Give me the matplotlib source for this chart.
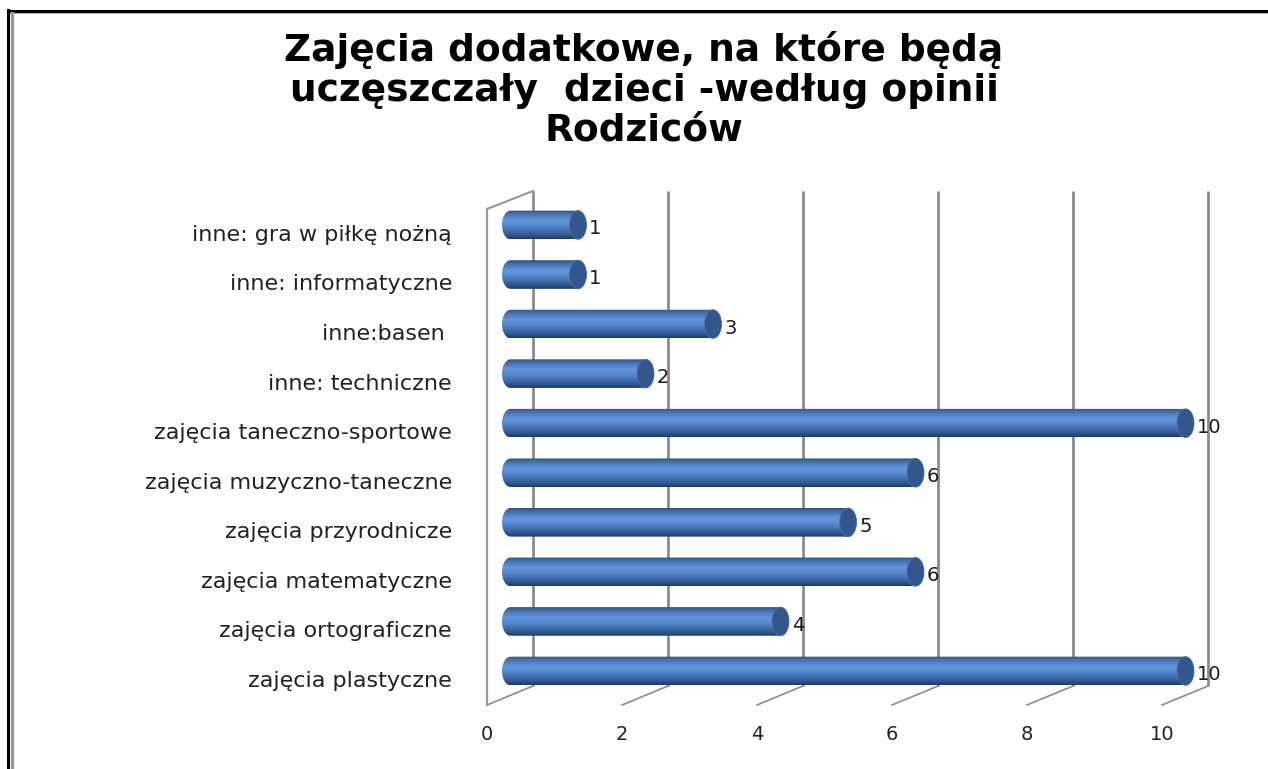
import numpy as np
import matplotlib
matplotlib.use("Agg")
import matplotlib.pyplot as plt
from matplotlib.patches import PathPatch, Ellipse
from matplotlib.path import Path
from matplotlib.colors import LinearSegmentedColormap
from matplotlib.lines import Line2D

# ---------------- data ----------------
categories = ['zajęcia plastyczne', 'zajęcia ortograficzne', 'zajęcia matematyczne',
              'zajęcia przyrodnicze', 'zajęcia muzyczno-taneczne', 'zajęcia taneczno-sportowe',
              'inne: techniczne', 'inne:basen ', 'inne: informatyczne', 'inne: gra w piłkę nożną']
values = [10, 4, 6, 5, 6, 10, 2, 3, 1, 1]
ticks = [0, 2, 4, 6, 8, 10]
title = "Zajęcia dodatkowe, na które będą\nuczęszczały  dzieci -według opinii\nRodziców"

# ---------------- layout constants ----------------
W, H = 1268, 769
PX = 67.5        # pixels per value unit
PY = 49.56       # pixels per category
X0PX, Y0PX = 487, 671
DEPTH_DX = 46 / PX
BAR_DX = 23.5 / PX
HALF_W = 8.5 / PX       # half width of cylinder end ellipse
HALF_H = 14.3 / PY      # half height of cylinder

def ypx(py):
    return (Y0PX - py) / PY

fig = plt.figure(figsize=(W / 100, H / 100), dpi=100)
ax = fig.add_axes([0, 0, 1, 1])
ax.set_axis_off()
xlim = (-X0PX / PX, (W - X0PX) / PX)
ylim = (ypx(H), ypx(0))

grid_c = '#8c8c8c'
# back wall gridlines
y_back_bot, y_back_top = ypx(686), ypx(191)
y_front_bot = ypx(705)
for v in ticks:
    ax.plot([v + DEPTH_DX, v + DEPTH_DX], [y_back_bot, y_back_top], color=grid_c, lw=2.0,
            solid_capstyle='butt', zorder=1)
    ax.plot([v, v + DEPTH_DX], [y_front_bot, y_back_bot], color=grid_c, lw=1.2, zorder=1)
# left wall
ax.plot([0, 0], [y_front_bot, ypx(209)], color='#9a9a9a', lw=1.6, zorder=1)
ax.plot([0, DEPTH_DX], [ypx(209), y_back_top], color='#9a9a9a', lw=1.6, zorder=1)

# cylinders
cmap = LinearSegmentedColormap.from_list('cyl', [
    (0.0, '#2a4d7c'), (0.1, '#3f6cab'), (0.35, '#6196dc'), (0.5, '#5a8ed4'),
    (0.75, '#3e6ba7'), (0.9, '#2c5084'), (1.0, '#1e3960')])
grad = np.linspace(0, 1, 128).reshape(-1, 1)
t = np.linspace(np.pi / 2, 3 * np.pi / 2, 40)
t2 = np.linspace(-np.pi / 2, np.pi / 2, 40)
for i, v in enumerate(values):
    yc = i
    x0 = BAR_DX
    x1 = BAR_DX + v
    left = np.column_stack([x0 + HALF_W * np.cos(t), yc + HALF_H * np.sin(t)])
    right = np.column_stack([x1 + HALF_W * np.cos(t2), yc + HALF_H * np.sin(t2)])
    verts = np.vstack([left, right, left[:1]])
    codes = [Path.MOVETO] + [Path.LINETO] * (len(verts) - 2) + [Path.CLOSEPOLY]
    patch = PathPatch(Path(verts, codes), facecolor='none', edgecolor='none', zorder=3)
    ax.add_patch(patch)
    im = ax.imshow(grad, cmap=cmap, aspect='auto', origin='upper',
                   extent=[x0 - HALF_W, x1 + HALF_W, yc - HALF_H, yc + HALF_H],
                   zorder=3, interpolation='bilinear')
    im.set_clip_path(patch)
    cap = Ellipse((x1, yc), 2 * HALF_W, 2 * HALF_H, facecolor='#33578a',
                  edgecolor='#4a72a8', lw=0.6, zorder=4)
    ax.add_patch(cap)
    ax.text(x1 + HALF_W + 0.04, yc - 0.08, str(v), ha='left', va='center',
            fontsize=14, color='#1a1a1a', family='DejaVu Sans', zorder=5)
    ax.text(-35 / PX, yc - 0.2, categories[i], ha='right', va='center',
            fontsize=16, color='#222222', family='DejaVu Sans', zorder=5)

for v in ticks:
    ax.text(v, ypx(735), str(v), ha='center', va='center', fontsize=14,
            color='#222222', family='DejaVu Sans')

ax.set_xlim(*xlim)
ax.set_ylim(*ylim)

fig.text(644 / W, 1 - 31 / H, title, ha='center', va='top', fontsize=27,
         fontweight='bold', family='DejaVu Sans', linespacing=1.13, color='#000000')

# frame
fig.add_artist(Line2D([8 / W, 1], [1 - 11.3 / H, 1 - 11.3 / H], transform=fig.transFigure,
                      color='black', lw=2.2))
fig.add_artist(Line2D([8 / W, 1], [1 - 13.2 / H, 1 - 13.2 / H], transform=fig.transFigure,
                      color='#b0b0b0', lw=0.8))
fig.add_artist(Line2D([8 / W, 8 / W], [0, 1 - 10 / H], transform=fig.transFigure,
                      color='black', lw=2.2))
fig.add_artist(Line2D([11.5 / W, 11.5 / W], [0, 1 - 12.5 / H], transform=fig.transFigure,
                      color='#9a9a9a', lw=2.4))

fig.savefig('out.png', dpi=100)
